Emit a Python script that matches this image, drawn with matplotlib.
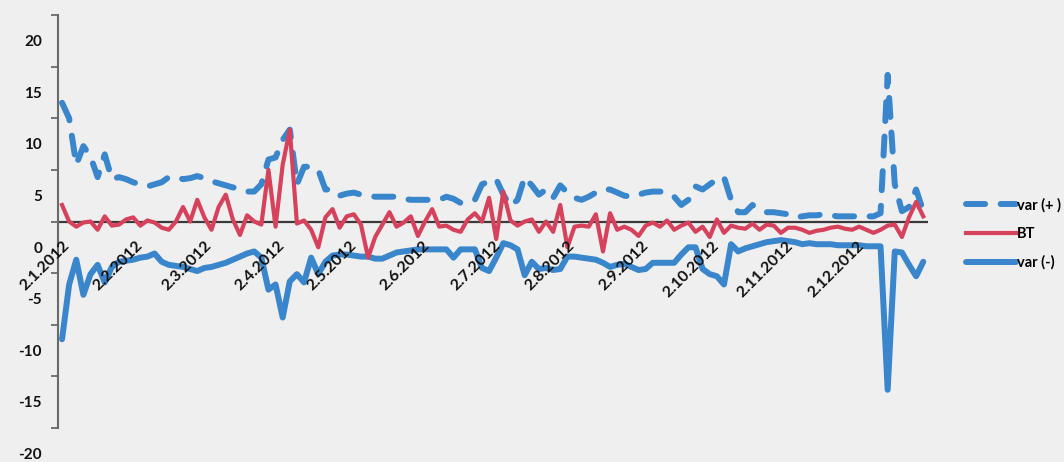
import matplotlib
matplotlib.use('Agg')
import matplotlib.pyplot as plt
import matplotlib.dates as mdates
import matplotlib.transforms as mtrans
import pandas as pd

plt.rcParams['font.family'] = ['Lato', 'DejaVu Sans']

# ---- data (sampled every 3 days from 2.1.2012) ----
start = '2012-01-02'
dates = pd.date_range(start, periods=122, freq='3D')

var_plus = [
    11.5, 10.0, 5.5, 7.3, 6.3, 4.3, 6.5, 4.1, 4.3, 4.1,
    3.8, 3.6, 3.4, 3.6, 3.8, 4.3, 4.3, 4.1, 4.2, 4.4,
    4.2, 3.9, 3.7, 3.5, 3.3, 3.2, 2.9, 2.9, 3.6, 6.0,
    6.2, 7.9, 8.9, 3.6, 5.3, 5.3, 5.0, 3.1, 3.1, 2.5,
    2.7, 2.8, 2.6, 2.5, 2.4, 2.4, 2.4, 2.4, 2.2, 2.1,
    2.1, 2.1, 2.1, 2.1, 2.4, 2.2, 1.8, 1.9, 2.1, 3.6,
    3.9, 4.1, 2.6, 1.5, 2.1, 4.3, 3.5, 2.6, 3.1, 2.3,
    3.5, 2.8, 2.3, 2.1, 2.4, 2.8, 3.1, 3.1, 2.8, 2.5,
    2.4, 2.6, 2.8, 2.9, 2.9, 2.8, 2.4, 1.6, 2.1, 3.4,
    3.1, 3.6, 4.1, 4.3, 2.1, 0.9, 0.9, 1.6, 1.2, 0.9,
    0.9, 0.8, 0.7, 0.4, 0.5, 0.6, 0.6, 0.7, 0.6, 0.5,
    0.5, 0.5, 0.5, 0.5, 0.5, 0.8, 14.2, 3.6, 1.0, 1.4, 3.1, 1.0,
]

bt = [
    1.6, 0.0, -0.5, -0.1, 0.0, -0.8, 0.5, -0.4, -0.3, 0.2,
    0.4, -0.4, 0.1, -0.1, -0.6, -0.8, 0.0, 1.4, 0.0, 2.1,
    0.4, -0.8, 1.4, 2.6, 0.2, -1.3, 0.6, 0.0, -0.3, 5.0,
    -0.5, 5.5, 8.9, -0.2, 0.1, -0.8, -2.5, 0.4, 1.2, -0.6,
    0.5, 0.7, -0.3, -3.5, -1.5, -0.3, 0.9, -0.5, -0.1, 0.5,
    -1.4, 0.0, 1.2, -0.5, -0.4, -0.8, -1.0, 0.2, 0.8, 0.0,
    2.3, -1.7, 2.9, 0.1, -0.4, 0.0, 0.2, -1.0, 0.0, -1.0,
    1.6, -2.5, -0.5, -0.4, -0.5, 0.7, -2.9, 0.8, -0.8, -0.5,
    -0.8, -1.4, -0.4, -0.1, -0.5, 0.1, -0.8, -0.4, -0.1, -1.0,
    -0.5, -1.5, 0.2, -1.1, -0.4, -0.6, -0.7, -0.2, -0.8, -0.3,
    -0.4, -1.1, -0.6, -0.6, -0.8, -1.1, -0.9, -0.8, -0.6, -0.5,
    -0.7, -0.8, -0.5, -0.8, -1.1, -0.8, -0.4, -0.3, -1.5, 0.4, 1.9, 0.5,
]

var_minus = [
    -11.4, -6.1, -3.7, -7.1, -5.1, -4.2, -5.9, -4.4, -3.9, -3.8,
    -3.7, -3.5, -3.4, -3.1, -3.9, -4.2, -4.3, -4.4, -4.6, -4.8,
    -4.5, -4.4, -4.2, -4.0, -3.7, -3.4, -3.1, -2.9, -3.5, -6.6,
    -6.1, -9.3, -5.8, -5.1, -5.9, -3.5, -5.1, -3.9, -3.3, -3.2,
    -3.2, -3.3, -3.4, -3.4, -3.6, -3.6, -3.3, -3.0, -2.9, -2.8,
    -2.7, -2.7, -2.7, -2.7, -2.7, -3.5, -2.7, -2.7, -2.7, -4.5,
    -4.8, -3.5, -2.1, -2.3, -2.7, -5.2, -3.9, -4.6, -4.5, -4.7,
    -4.6, -3.4, -3.4, -3.5, -3.6, -3.7, -4.0, -4.4, -4.2, -4.1,
    -4.4, -4.7, -4.6, -4.0, -4.0, -4.0, -4.0, -3.2, -2.5, -2.5,
    -4.6, -5.1, -5.3, -6.1, -2.2, -2.9, -2.6, -2.4, -2.2, -2.0,
    -1.9, -1.8, -1.9, -2.0, -2.2, -2.1, -2.2, -2.2, -2.2, -2.3,
    -2.3, -2.3, -2.3, -2.4, -2.4, -2.4, -16.3, -2.9, -3.0, -4.2, -5.3, -3.9,
]

tick_dates = ['2012-01-02', '2012-02-02', '2012-03-02', '2012-04-02',
              '2012-05-02', '2012-06-02', '2012-07-02', '2012-08-02',
              '2012-09-02', '2012-10-02', '2012-11-02', '2012-12-02']
tick_labels = ['2.1.2012', '2.2.2012', '2.3.2012', '2.4.2012', '2.5.2012',
               '2.6.2012', '2.7.2012', '2.8.2012', '2.9.2012', '2.10.2012',
               '2.11.2012', '2.12.2012']
y_ticks = [20, 15, 10, 5, 0, -5, -10, -15, -20]

series_names = ['var (+ )', 'BT', 'var (-)']

# ---- figure ----
blue = '#3a86cc'
red = '#d6415c'

fig = plt.figure(figsize=(10.64, 4.62), dpi=100, facecolor='#efefef')
ax = fig.add_axes([58 / 1064, 34 / 462, 870 / 1064, 413 / 462])
ax.set_facecolor('none')

x = mdates.date2num(dates)
x0 = mdates.date2num(pd.Timestamp(start))
ax.set_xlim(x0 - 1.7, x0 + 365)
ax.set_ylim(-20, 20)

ax.axhline(0, color='#3a3a3a', lw=1.6, zorder=2)
lp, = ax.plot(x, var_plus, color=blue, lw=4.3, dashes=(3.2, 2.6),
              dash_capstyle='round', label=series_names[0], zorder=3)
lb, = ax.plot(x, bt, color=red, lw=3.0, solid_joinstyle='round',
              label=series_names[1], zorder=4)
lm, = ax.plot(x, var_minus, color=blue, lw=4.3, solid_joinstyle='round',
              solid_capstyle='round', label=series_names[2], zorder=3)

for s in ['top', 'right', 'bottom']:
    ax.spines[s].set_visible(False)
ax.spines['left'].set_color('#6a6a6a')
ax.spines['left'].set_linewidth(1.5)
ax.set_xticks([])
ax.set_yticks(y_ticks)
ax.set_yticklabels([])
ax.tick_params(axis='y', length=5, width=1.3, color='#6a6a6a', direction='out')

ytrans = mtrans.offset_copy(ax.get_yaxis_transform(), fig=fig, x=-16, y=-27, units='dots')
for v in y_ticks:
    ax.text(0, v, str(v), transform=ytrans, ha='right', va='center',
            fontsize=11, fontweight='bold', color='#111111')

xtrans = mtrans.offset_copy(ax.transData, fig=fig, x=0, y=-17, units='dots')
for d, lab in zip(tick_dates, tick_labels):
    ax.text(mdates.date2num(pd.Timestamp(d)), 0, lab, transform=xtrans,
            rotation=45, rotation_mode='anchor', ha='right', va='top',
            fontsize=11.5, fontweight='bold', color='#111111', zorder=6)

ax.legend(handles=[lp, lb, lm], loc='center left',
          bbox_to_anchor=(966 / 1064, 1 - 234 / 462), bbox_transform=fig.transFigure,
          frameon=False, handlelength=3.4, handletextpad=0.1, labelspacing=1.0,
          borderpad=0, borderaxespad=0, prop={'weight': 'bold', 'size': 10.5})

fig.savefig('out.png', dpi=100, facecolor=fig.get_facecolor())
